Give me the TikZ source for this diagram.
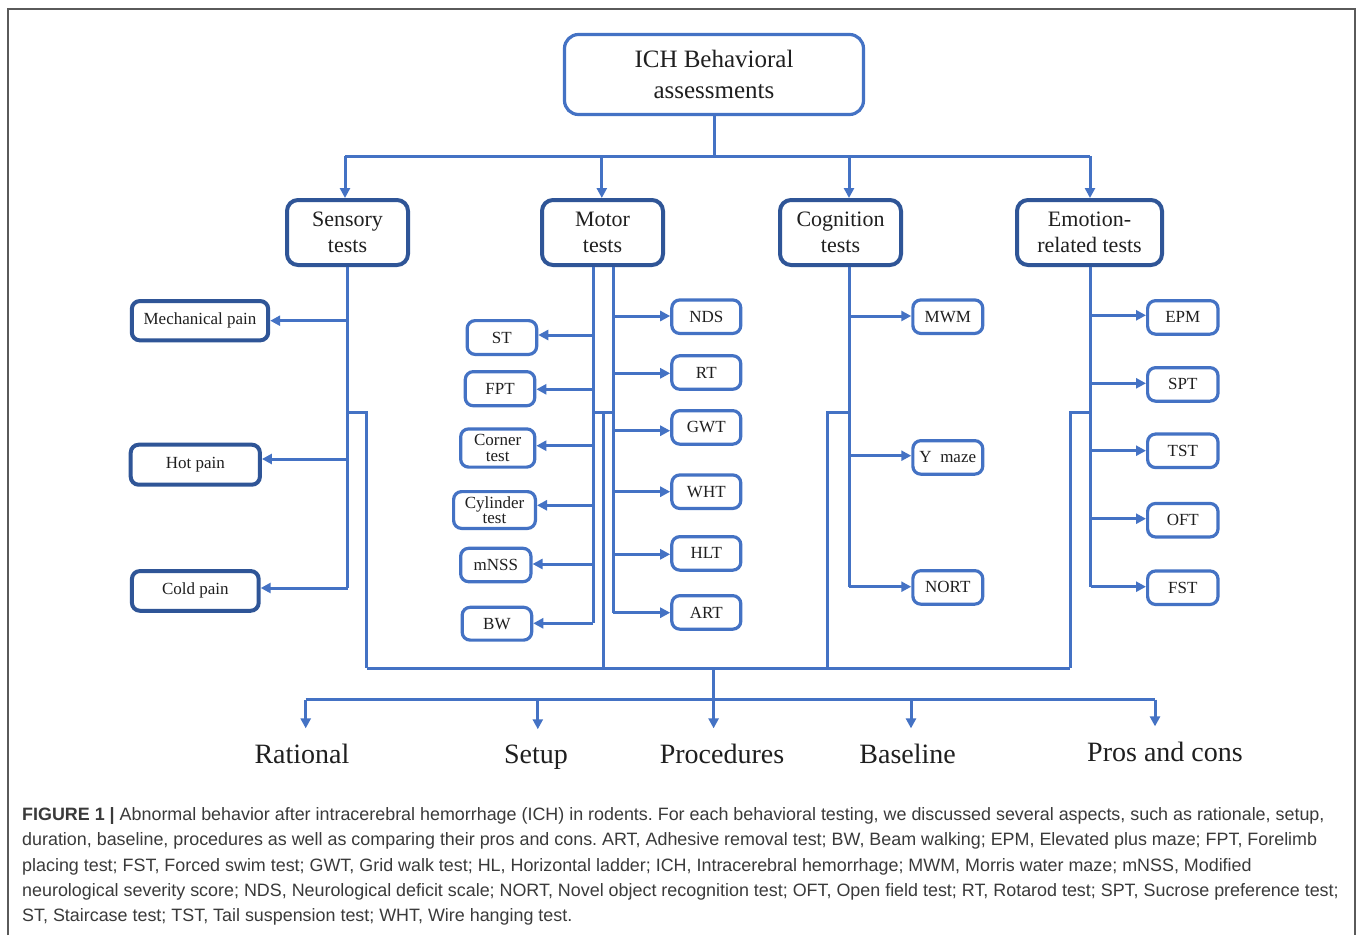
\documentclass[tikz,border=0pt]{standalone}
\usepackage{fontspec}
\setmainfont{Liberation Serif}
\newfontfamily\capfont{Liberation Sans}
\usetikzlibrary{arrows.meta}
\definecolor{lblue}{HTML}{4472C4}
\definecolor{dblue}{HTML}{2F5597}
\definecolor{framec}{HTML}{5A5A5A}
\definecolor{captxt}{HTML}{3A3A3A}
\begin{document}
\frenchspacing
\begin{tikzpicture}[x=1pt,y=-1pt,
  box/.style={rectangle, rounded corners=8pt, fill=white, inner sep=0pt, align=center, text=black!88},
  lbox/.style={box, draw=lblue, line width=3.2pt},
  dbox/.style={box, draw=dblue, line width=4pt},
  subf/.style={font=\fontsize{17}{20}\selectfont},
  twof/.style={font=\fontsize{17}{15.5}\selectfont},
  catf/.style={font=\fontsize{22}{26}\selectfont},
  con/.style={draw=lblue, line width=3pt},
  arr/.style={con, -{Triangle[length=10pt,width=10pt]}},
  lab/.style={font=\fontsize{28}{30}\selectfont, text=black!88, anchor=base, inner xsep=2pt, inner ysep=15pt},
  captext/.style={font=\capfont\fontsize{17.9}{20}\selectfont, text=captxt, anchor=base west, inner sep=0pt},
  sm/.style={lbox, subf, minimum height=33.5pt},
]
\useasboundingbox (0,0) rectangle (1358,935);
\fill[white] (0,0) rectangle (1358,935);
\draw[framec, line width=2pt] (7.5,935) -- (7.5,9) -- (1355,9) -- (1355,935);

% ---- top
\node[lbox, rounded corners=14pt, minimum width=299pt, minimum height=80pt, font=\fontsize{25}{31}\selectfont] (ich) at (714,74.5) {ICH Behavioral\\assessments};
\node[dbox, catf, rounded corners=11pt, minimum width=121pt, minimum height=65pt] (sens) at (347.5,232.5) {Sensory\\tests};
\node[dbox, catf, rounded corners=11pt, minimum width=121pt, minimum height=65pt] (mot) at (602.5,232.5) {Motor\\tests};
\node[dbox, catf, rounded corners=11pt, minimum width=121pt, minimum height=65pt] (cog) at (840.5,232.5) {Cognition\\tests};
\node[dbox, catf, rounded corners=11pt, minimum width=145pt, minimum height=65pt] (emo) at (1089.5,232.5) {Emotion-\\related tests};

\coordinate (top) at (714,156);
\coordinate (tS) at (345,156);
\coordinate (tM) at (601.8,156);
\coordinate (tC) at (849,156);
\coordinate (tE) at (1090,156);
\draw[con] (ich.south) -- (top);
\draw[con] (tS) -- (tE);
\draw[arr] (tS) -- (tS |- sens.north);
\draw[arr] (tM) -- (tM |- mot.north);
\draw[arr] (tC) -- (tC |- cog.north);
\draw[arr] (tE) -- (tE |- emo.north);

% ---- sensory
\node[dbox, subf, minimum width=136.4pt, minimum height=39.3pt] (mech) at (200,320.7) {Mechanical pain};
\node[dbox, subf, minimum width=129.2pt, minimum height=40pt] (hot) at (195.3,464.7) {Hot pain};
\node[dbox, subf, minimum width=126.8pt, minimum height=39.7pt] (cold) at (195.3,590.9) {Cold pain};
\coordinate (sM) at (347.5,320.7);
\coordinate (sJ) at (347.5,412);
\coordinate (sH) at (347.5,459);
\coordinate (sC) at (347.5,588);
\draw[con] (sens.south) -- (sC);
\draw[arr] (sM) -- (mech.east);
\draw[arr] (sH) -- (sH -| hot.east);
\draw[arr] (sC) -- (sC -| cold.east);
\coordinate (sJ2) at (366.7,412);
\coordinate (sB) at (366.7,668);
\draw[con] (sJ) -- (sJ2) -- (sB);

% ---- motor left
\node[sm, minimum width=69.5pt, minimum height=33.8pt] (st) at (501.9,337.5) {ST};
\node[sm, minimum width=69.5pt, minimum height=34.1pt] (fpt) at (500,388.7) {FPT};
\node[lbox, twof, minimum width=74.1pt, minimum height=38.2pt] (corner) at (497.7,448) {Corner\\test};
\node[lbox, twof, minimum width=81.8pt, minimum height=36.8pt] (cyl) at (494.5,510) {Cylinder\\test};
\node[sm, minimum width=70.3pt, minimum height=33.4pt] (mnss) at (495.8,565) {mNSS};
\node[sm, minimum width=69.5pt, minimum height=32.8pt] (bw) at (496.9,623.7) {BW};
\coordinate (mLt) at (593,267);
\coordinate (mL1) at (593,335);
\coordinate (mL2) at (593,389.3);
\coordinate (mL3) at (593,445.7);
\coordinate (mL4) at (593,505.3);
\coordinate (mL5) at (593,564);
\coordinate (mL6) at (593,623.3);
\draw[con] (mLt) -- (mL6);
\draw[arr] (mL1) -- (mL1 -| st.east);
\draw[arr] (mL2) -- (mL2 -| fpt.east);
\draw[arr] (mL3) -- (mL3 -| corner.east);
\draw[arr] (mL4) -- (mL4 -| cyl.east);
\draw[arr] (mL5) -- (mL5 -| mnss.east);
\draw[arr] (mL6) -- (mL6 -| bw.east);

% ---- motor right
\node[sm, minimum width=69pt] (nds) at (706.3,316.7) {NDS};
\node[sm, minimum width=69pt] (rt) at (706.3,372.5) {RT};
\node[sm, minimum width=69pt] (gwt) at (706.3,427.4) {GWT};
\node[sm, minimum width=69pt] (wht) at (706.3,491.7) {WHT};
\node[sm, minimum width=69pt] (hlt) at (706.3,553.4) {HLT};
\node[sm, minimum width=69pt] (art) at (706.3,612.4) {ART};
\coordinate (mRt) at (613,267);
\coordinate (mR1) at (613,316);
\coordinate (mR2) at (613,373.3);
\coordinate (mR3) at (613,430.7);
\coordinate (mR4) at (613,491.7);
\coordinate (mR5) at (613,554.3);
\coordinate (mR6) at (613,612.7);
\draw[con] (mRt) -- (mR6);
\draw[arr] (mR1) -- (mR1 -| nds.west);
\draw[arr] (mR2) -- (mR2 -| rt.west);
\draw[arr] (mR3) -- (mR3 -| gwt.west);
\draw[arr] (mR4) -- (mR4 -| wht.west);
\draw[arr] (mR5) -- (mR5 -| hlt.west);
\draw[arr] (mR6) -- (mR6 -| art.west);
\coordinate (mJL) at (593,412.7);
\coordinate (mJR) at (613,412.7);
\coordinate (mJ) at (603,412.7);
\coordinate (mB) at (603,668);
\draw[con] (mJL) -- (mJR);
\draw[con] (mJ) -- (mB);

% ---- cognition
\node[sm, minimum width=69.9pt] (mwm) at (947.8,316.7) {MWM};
\node[sm, minimum width=69.9pt] (ym) at (947.8,457.4) {Y\enspace maze};
\node[sm, minimum width=69.9pt] (nort) at (947.8,587.4) {NORT};
\coordinate (cT) at (849,267);
\coordinate (c1) at (849,316);
\coordinate (cJ) at (849,412.3);
\coordinate (c2) at (849,455.7);
\coordinate (c3) at (849,586.7);
\draw[con] (cT) -- (c3);
\draw[arr] (c1) -- (c1 -| mwm.west);
\draw[arr] (c2) -- (c2 -| ym.west);
\draw[arr] (c3) -- (c3 -| nort.west);
\coordinate (cJ2) at (827.3,412.3);
\coordinate (cB) at (827.3,668);
\draw[con] (cJ) -- (cJ2) -- (cB);

% ---- emotion
\node[sm, minimum width=70.4pt] (epm) at (1182.8,317.4) {EPM};
\node[sm, minimum width=70.4pt] (spt) at (1182.8,384.4) {SPT};
\node[sm, minimum width=70.4pt] (tst) at (1182.8,450.8) {TST};
\node[sm, minimum width=70.4pt] (oft) at (1182.8,520.2) {OFT};
\node[sm, minimum width=70.4pt] (fst) at (1182.8,587.7) {FST};
\coordinate (eT) at (1090.6,267);
\coordinate (e1) at (1090.6,315.3);
\coordinate (e2) at (1090.6,383.3);
\coordinate (eJ) at (1090.6,412.3);
\coordinate (e3) at (1090.6,450.7);
\coordinate (e4) at (1090.6,518.7);
\coordinate (e5) at (1090.6,586.7);
\draw[con] (eT) -- (e5);
\draw[arr] (e1) -- (e1 -| epm.west);
\draw[arr] (e2) -- (e2 -| spt.west);
\draw[arr] (e3) -- (e3 -| tst.west);
\draw[arr] (e4) -- (e4 -| oft.west);
\draw[arr] (e5) -- (e5 -| fst.west);
\coordinate (eJ2) at (1070.4,412.3);
\coordinate (eB) at (1070.4,668);
\draw[con] (eJ) -- (eJ2) -- (eB);

% ---- bottom
\draw[con] (sB) -- (eB);
\coordinate (bm) at (713.6,668);
\coordinate (b3) at (713.6,699.5);
\coordinate (b1) at (305.7,699.5);
\coordinate (b2) at (537.8,699.5);
\coordinate (b4) at (911,699.5);
\coordinate (b5) at (1155,699.5);
\draw[con] (bm) -- (b3);
\draw[con, line width=3.6pt] (b1) -- (b5);
\node[lab] (rat) at (302,763) {Rational};
\node[lab] (set) at (536,763) {Setup};
\node[lab] (pro) at (722,763) {Procedures};
\node[lab] (bas) at (907.6,763) {Baseline};
\node[lab] (pc) at (1165,761) {Pros and cons};
\draw[arr] (b1) -- (b1 |- rat.north);
\draw[arr] (b2) -- (b2 |- set.north);
\draw[arr] (b3) -- (b3 |- pro.north);
\draw[arr] (b4) -- (b4 |- bas.north);
\draw[arr] (b5) -- (b5 |- pc.north);

% ---- caption
\node[captext] (cap1) at (22,820) {\textbf{FIGURE 1 |} Abnormal behavior after intracerebral hemorrhage (ICH) in rodents. For each behavioral testing, we discussed several aspects, such as rationale, setup,};
\node[captext] (cap2) at (22,845.5) {duration, baseline, procedures as well as comparing their pros and cons. ART, Adhesive removal test; BW, Beam walking; EPM, Elevated plus maze; FPT, Forelimb};
\node[captext] (cap3) at (22,871) {placing test; FST, Forced swim test; GWT, Grid walk test; HL, Horizontal ladder; ICH, Intracerebral hemorrhage; MWM, Morris water maze; mNSS, Modified};
\node[captext] (cap4) at (22,896.5) {neurological severity score; NDS, Neurological deficit scale; NORT, Novel object recognition test; OFT, Open field test; RT, Rotarod test; SPT, Sucrose preference test;};
\node[captext] (cap5) at (22,921.5) {ST, Staircase test; TST, Tail suspension test; WHT, Wire hanging test.};
\end{tikzpicture}
\end{document}
